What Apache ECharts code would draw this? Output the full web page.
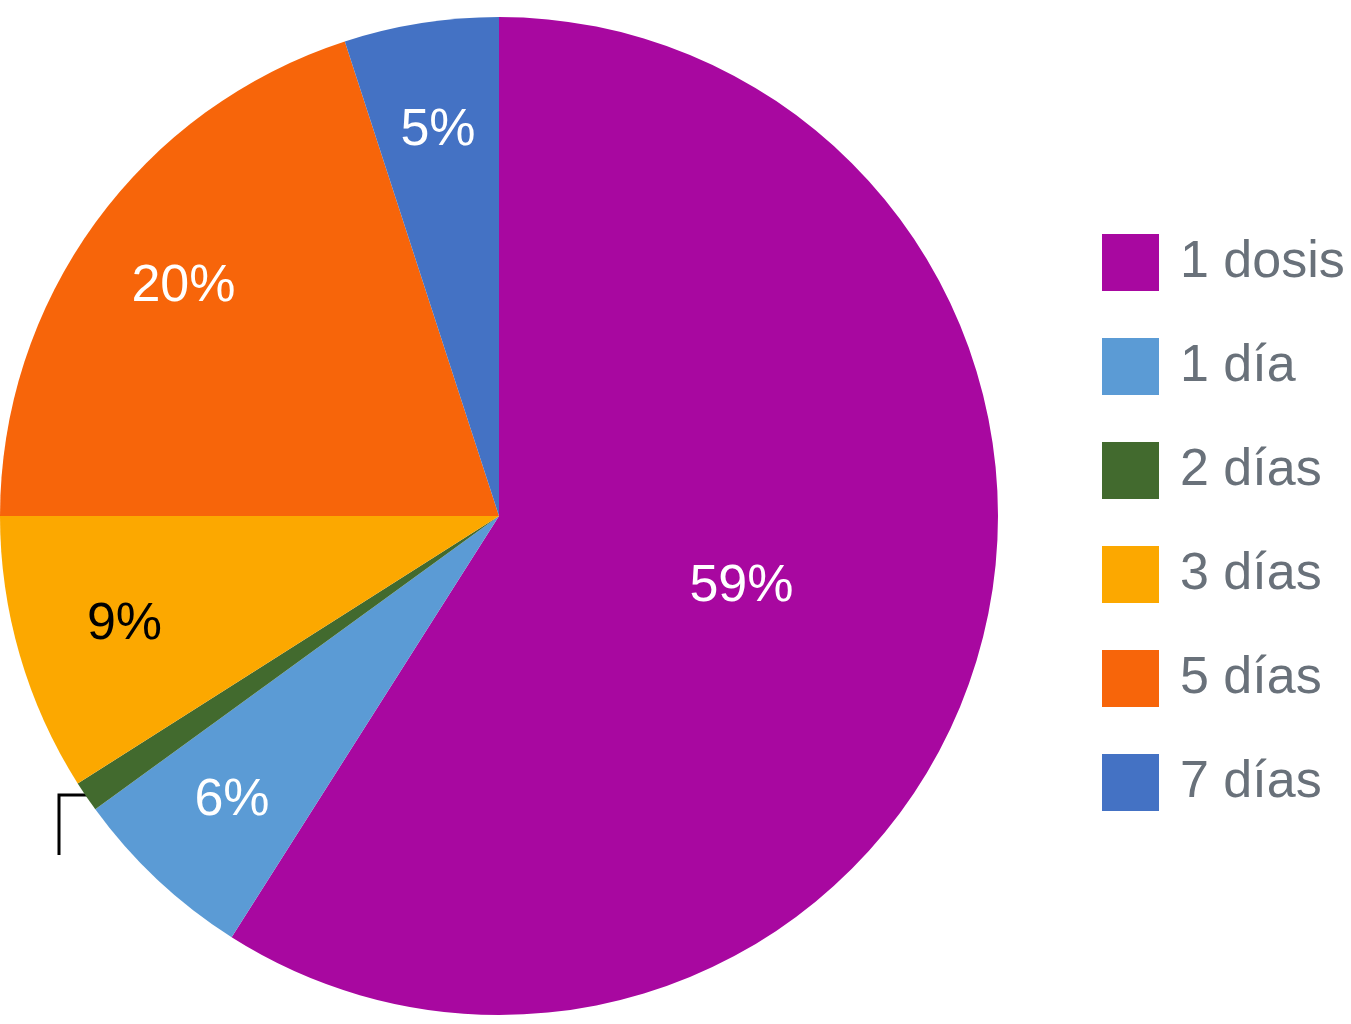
<!DOCTYPE html>
<html>
<head>
<meta charset="utf-8">
<script src="https://cdn.jsdelivr.net/npm/echarts@6/dist/echarts.min.js"></script>
<style>html,body{margin:0;padding:0;background:#fff}#chart{width:1351px;height:1024px}</style>
</head>
<body>
<div id="chart"></div>
<script>
var categories = ['1 dosis', '1 día', '2 días', '3 días', '5 días', '7 días'];
var values = [59, 6, 1, 9, 20, 5];
var colors = ['#a808a0', '#5b9bd5', '#426a2e', '#fca800', '#f7650a', '#4472c4'];
var labelColors = ['#fff', '#fff', '#000', '#000', '#fff', '#fff'];

var font = 'Liberation Sans, Arial, sans-serif';

var mainData = categories.map(function (c, i) {
    var d = { name: c, value: values[i], itemStyle: { color: colors[i] } };
    if (i === 0) {
        d.label = { show: true, position: 'inside' };
    } else if (i === 2) {
        d.label = { show: true, position: 'outside', color: '#000' };
        d.labelLine = { show: true, lineStyle: { color: '#000', width: 3 } };
    } else {
        d.label = { show: false };
    }
    return d;
});

var ringData = categories.map(function (c, i) {
    return {
        name: c, value: values[i],
        itemStyle: { color: 'rgba(0,0,0,0)' },
        label: { show: i !== 0 && i !== 2, color: labelColors[i] }
    };
});

var chart = echarts.init(document.getElementById('chart'));
chart.setOption({
    animation: false,
    legend: {
        orient: 'vertical',
        left: 1097,
        top: 229,
        icon: 'rect',
        itemWidth: 57,
        itemHeight: 57,
        itemGap: 47,
        data: categories,
        textStyle: { fontSize: 52, color: '#69717a', fontFamily: font, padding: [0, 0, 0, 16] }
    },
    series: [
        {
            type: 'pie',
            center: [499, 516],
            radius: [0, 499],
            startAngle: 90,
            data: mainData,
            label: { color: '#fff', fontSize: 52, fontFamily: font, formatter: '{c}%' },
            labelLine: { show: false },
            labelLayout: function (params) {
                if (params.dataIndex === 2) {
                    return {
                        x: 60, y: 886, align: 'center', verticalAlign: 'middle',
                        labelLinePoints: [[88, 795], [59, 795], [59, 855]]
                    };
                }
            }
        },
        {
            type: 'pie',
            silent: true,
            center: [499, 516],
            radius: [275, 499],
            startAngle: 90,
            data: ringData,
            legendHoverLink: false,
            label: { position: 'inside', fontSize: 52, fontFamily: font, formatter: '{c}%' },
            labelLine: { show: false }
        }
    ]
});
</script>
</body>
</html>
